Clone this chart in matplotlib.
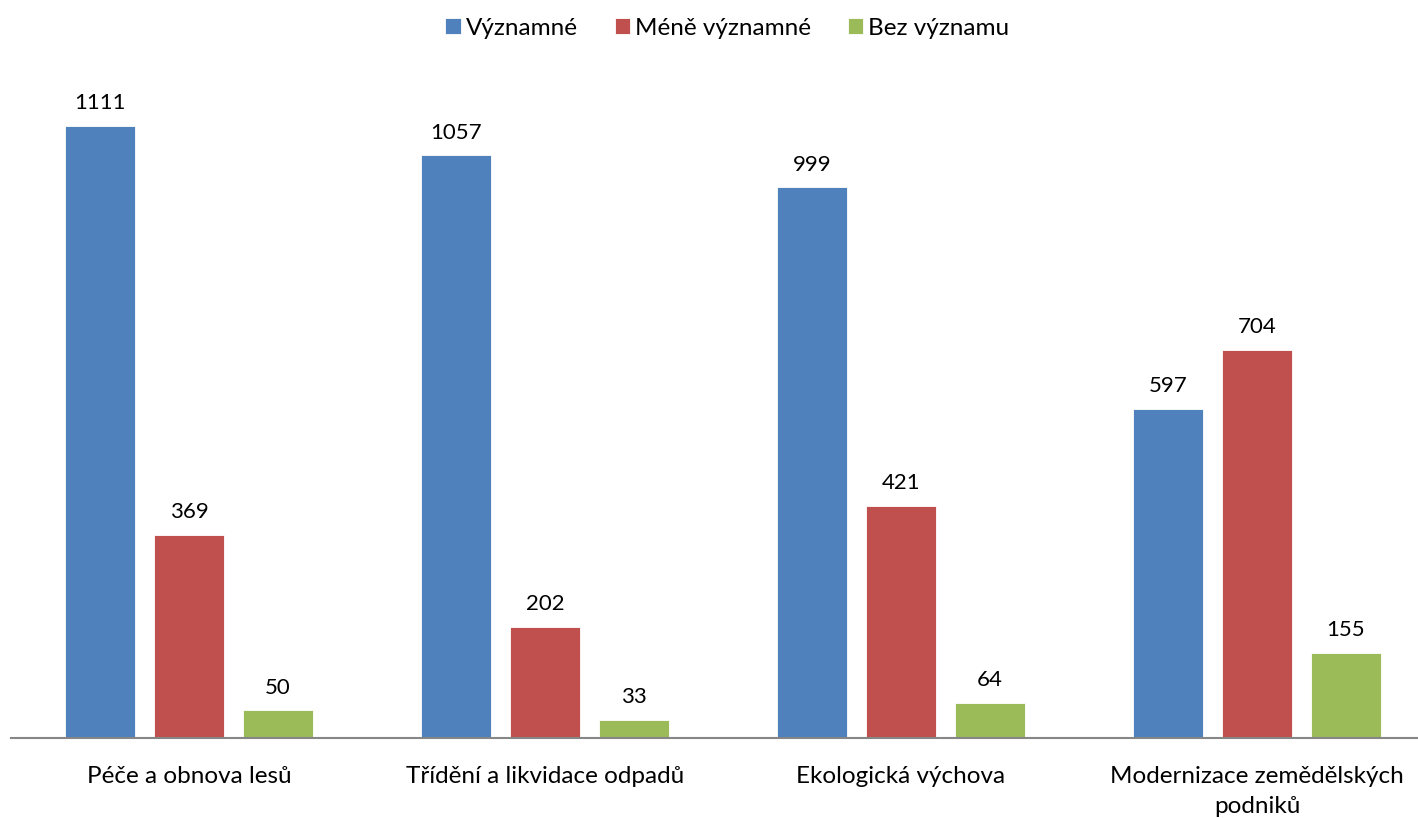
import numpy as np
from matplotlib import pyplot as plt

# data
kategorie = ["Péče a obnova lesů", "Třídění a likvidace odpadů",
             "Ekologická výchova", "Modernizace zemědělských\npodniků"]
serie = ["Významné", "Méně významné", "Bez významu"]
vyznamne = [1111, 1057, 999, 597]
mene_vyznamne = [369, 202, 421, 704]
bez_vyznamu = [50, 33, 64, 155]

barvy = ["#4F81BD", "#C0504D", "#9BBB59"]

plt.rcParams['font.family'] = ['Lato', 'DejaVu Sans']

fig = plt.figure(figsize=(14.18, 8.18), dpi=100)
# axes placed in pixels: x 11..1435, y 60..738
ax = fig.add_axes([11 / 1418, 80 / 818, 1424 / 1418, 678 / 818])

x = np.arange(len(kategorie))
sirka = 0.197
posun = 0.25
for i, (hodnoty, nazev) in enumerate(zip([vyznamne, mene_vyznamne, bez_vyznamu], serie)):
    pozice = x + (i - 1) * posun
    sloupce = ax.bar(pozice, hodnoty, width=sirka, color=barvy[i], label=nazev,
                     edgecolor="white", linewidth=0.6)
    ax.bar_label(sloupce, labels=[str(v) for v in hodnoty], padding=9, fontsize=16)

ax.set_xlim(-0.5, len(kategorie) - 0.5)
ax.set_ylim(0, 1230)
ax.set_xticks(x)
ax.set_xticklabels(kategorie, fontsize=17.5, linespacing=1.55)
ax.tick_params(axis='x', length=0, pad=20)
ax.set_yticks([])
for s in ["top", "right", "left"]:
    ax.spines[s].set_visible(False)
ax.spines["bottom"].set_color("#868686")
ax.spines["bottom"].set_linewidth(1.5)

fig.legend(loc="upper center", bbox_to_anchor=(0.513, 1.005), ncol=3, frameon=False,
           fontsize=17.5, handlelength=0.65, handleheight=0.65, handletextpad=0.2,
           columnspacing=1.5)

fig.savefig("out.png", dpi=100)
